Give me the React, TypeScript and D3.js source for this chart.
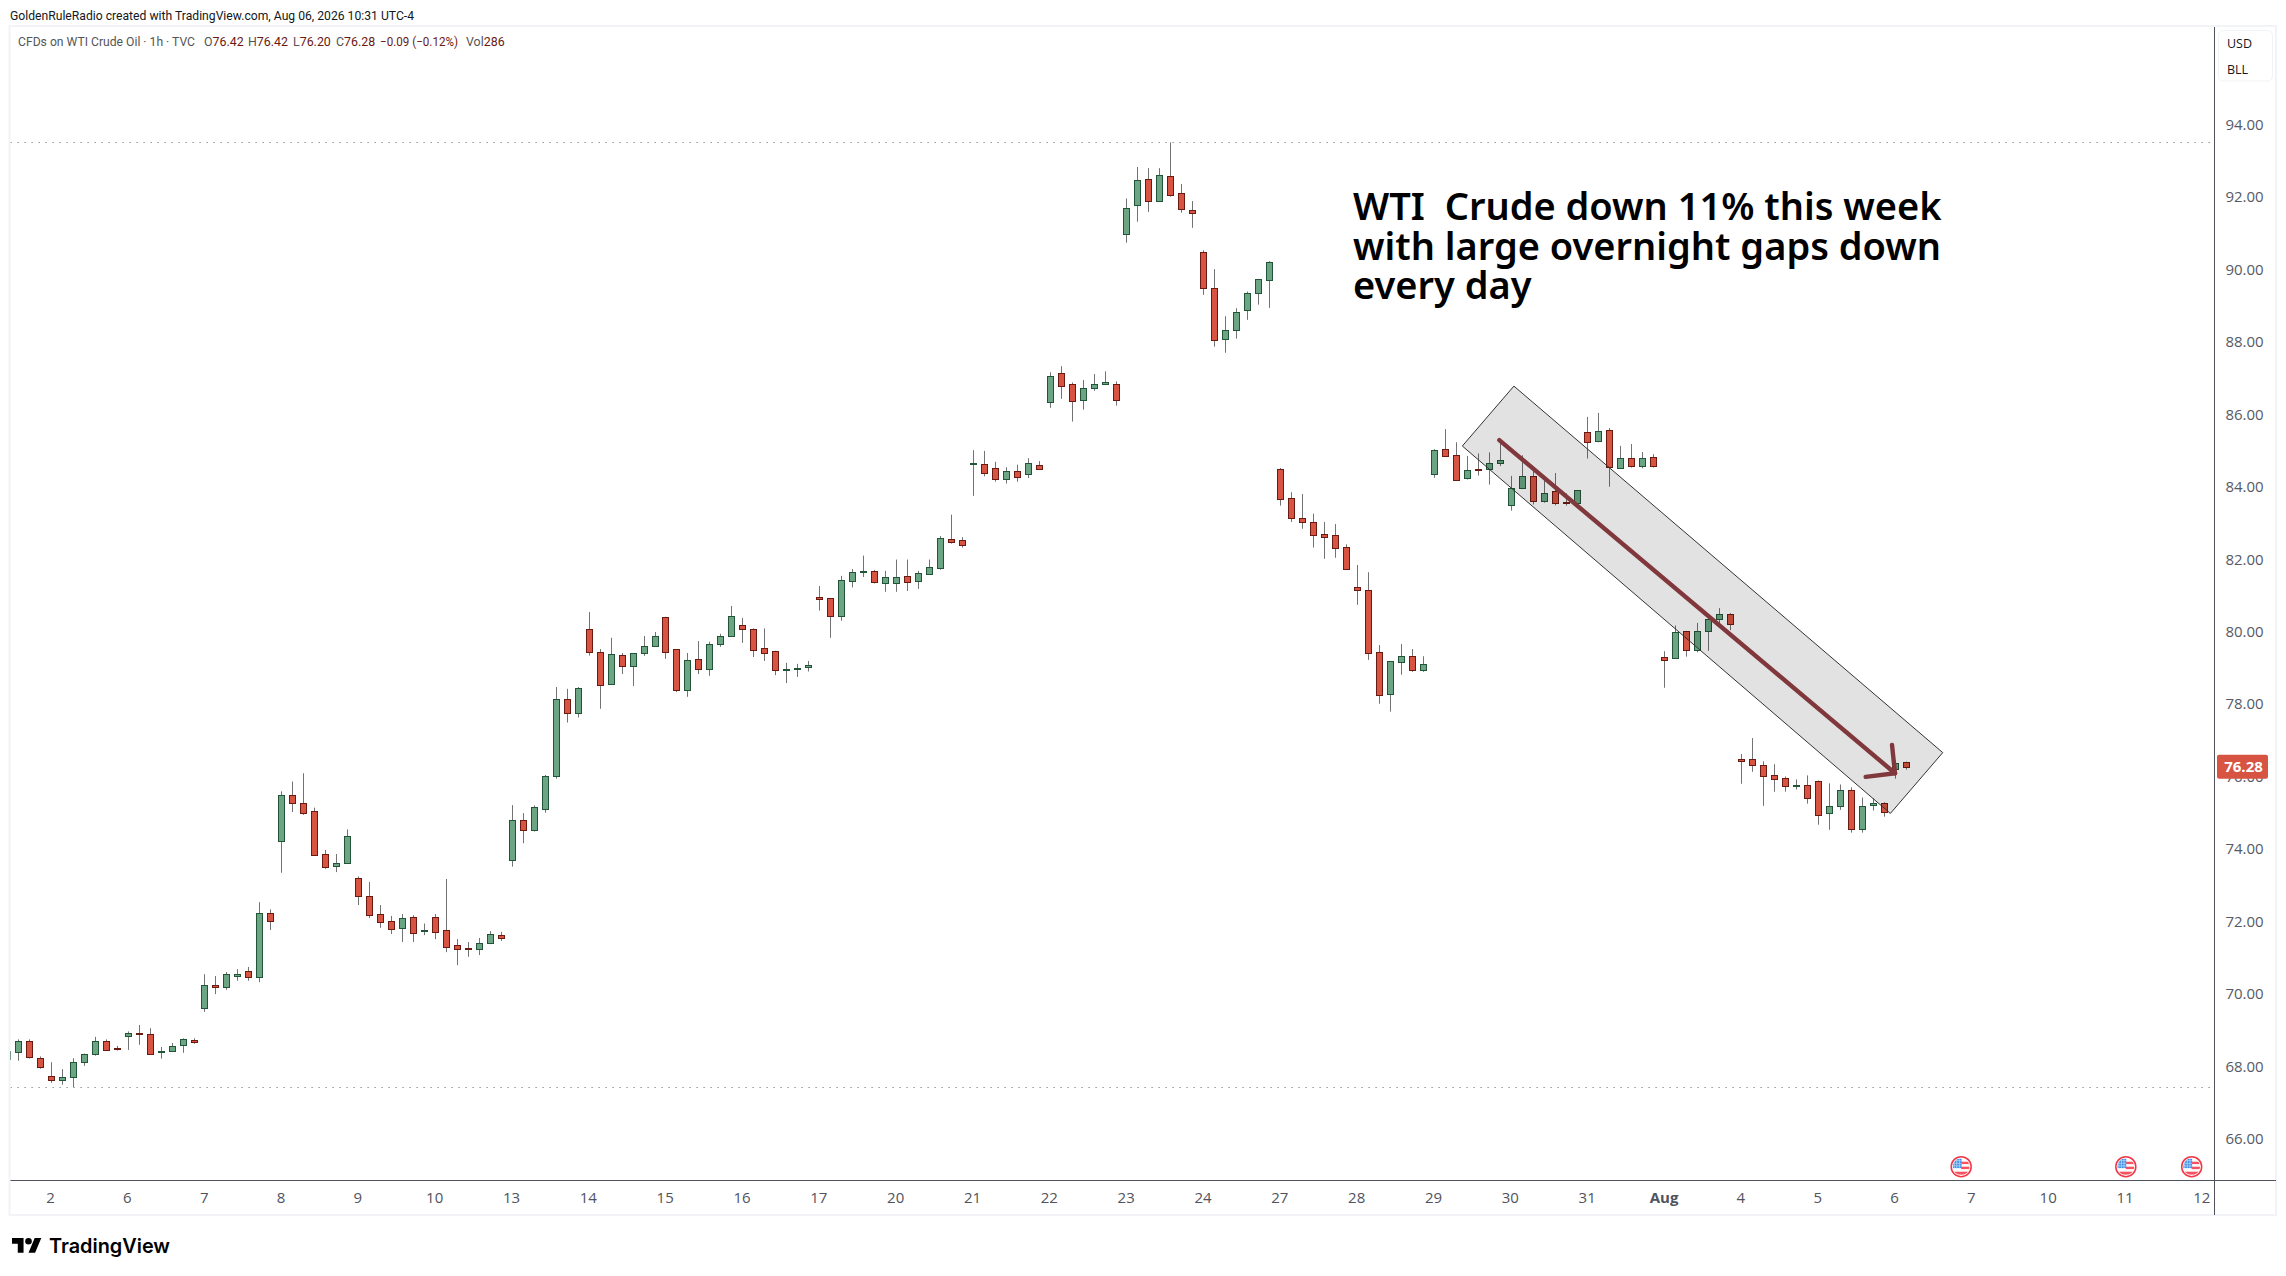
import React from "react";
import * as d3 from "d3";

// Hourly candles, one per slot, first slot is clipped by the left edge of the pane
const firstSlot = -1;
const opens = [
  68.22,68.39,68.70,68.25,67.73,67.64,67.72,68.14,68.36,68.70,68.50,68.85,68.94,68.89,68.39,68.42,68.59,68.72,
  69.63,70.24,70.21,70.51,70.63,70.48,72.23,74.22,75.51,75.27,75.07,73.86,73.55,73.63,73.20,72.70,72.20,72.01,
  71.83,72.12,71.75,72.12,71.76,71.35,71.27,71.26,71.42,71.62,73.70,74.80,74.54,75.12,76.03,78.14,77.75,80.07,
  79.44,78.57,79.36,79.07,79.43,79.62,80.41,79.52,78.41,79.25,78.99,79.68,79.90,80.19,80.07,79.55,79.47,78.96,
  78.99,79.02,80.96,80.93,80.43,81.42,81.67,81.68,81.36,81.34,81.54,81.42,81.61,81.78,82.58,82.55,84.63,84.65,
  84.52,84.22,84.45,84.35,84.62,86.36,87.14,86.84,86.42,86.75,86.86,86.86,90.98,91.78,92.50,91.89,92.58,92.11,
  91.64,90.48,89.49,88.08,88.33,88.88,89.35,89.71,84.49,83.69,83.16,83.05,82.70,82.67,82.34,81.23,81.15,79.44,
  78.28,79.16,79.35,78.94,84.35,85.04,84.88,84.24,84.50,84.49,84.68,83.50,83.99,84.32,83.63,83.88,83.58,83.55,
  85.51,85.27,85.57,84.52,84.80,84.58,84.82,79.30,79.27,80.02,79.49,80.04,80.37,80.49,76.48,76.48,76.34,76.04,
  75.96,75.76,75.77,75.88,74.99,75.19,75.65,74.55,75.21,75.27,76.23,76.42,
];
const highs = [
  68.50,68.75,68.75,68.28,68.12,67.93,68.23,68.36,68.82,68.75,68.57,68.97,69.15,69.06,68.54,68.65,68.78,68.78,
  70.55,70.50,70.61,70.69,70.75,72.54,72.34,75.60,75.87,76.10,75.15,73.98,73.87,74.55,73.25,73.10,72.46,72.16,
  72.21,72.18,71.95,72.21,73.18,71.52,71.44,71.55,71.74,71.72,75.22,75.00,75.21,76.05,78.48,78.43,78.48,80.55,
  79.53,79.84,79.42,79.42,79.89,80.00,80.42,79.53,79.42,79.75,79.73,79.95,80.72,80.39,80.10,80.10,79.48,79.15,
  79.12,79.20,81.27,80.94,81.55,81.74,82.11,81.71,81.69,82.00,82.00,81.69,82.00,82.65,83.24,82.62,85.02,85.00,
  84.70,84.55,84.62,84.80,84.72,87.17,87.34,86.89,86.96,87.12,87.20,86.92,91.97,92.84,92.81,92.81,93.52,92.37,
  91.90,90.54,90.02,88.72,88.94,89.40,89.75,90.24,84.53,83.86,83.81,83.27,83.04,82.98,82.42,81.85,81.65,79.64,
  79.20,79.67,79.53,79.33,85.05,85.60,85.24,84.86,84.93,84.96,85.30,84.31,84.88,84.55,84.21,84.39,83.83,83.92,
  85.94,86.05,85.63,85.14,85.19,84.97,84.91,79.47,80.18,80.03,80.25,80.42,80.66,80.52,76.63,77.07,76.43,76.35,
  76.01,75.93,76.04,75.90,75.82,75.79,75.71,75.43,75.41,75.30,76.45,76.42,
];
const lows = [
  68.15,68.16,68.22,67.94,67.55,67.50,67.43,68.02,68.30,68.43,68.44,68.46,68.60,68.35,68.22,68.41,68.38,68.63,
  69.51,70.00,70.12,70.37,70.37,70.33,71.77,73.35,75.03,74.95,73.82,73.46,73.37,73.60,72.46,72.10,71.83,71.66,
  71.44,71.44,71.63,71.52,71.16,70.80,71.03,71.08,71.38,71.47,73.52,74.17,74.49,75.01,75.95,77.50,77.64,79.35,
  77.88,78.57,78.84,78.51,79.34,79.59,79.26,78.34,78.21,78.84,78.79,79.59,79.87,79.70,79.31,79.20,78.81,78.59,
  78.76,78.91,80.59,79.84,80.31,81.23,81.52,81.34,81.11,81.11,81.13,81.19,81.58,81.72,82.44,82.33,83.76,84.30,
  84.15,84.10,84.15,84.25,84.48,86.19,86.44,85.81,86.14,86.66,86.84,86.25,90.75,91.33,91.60,91.88,92.02,91.58,
  91.16,89.31,87.88,87.71,88.10,88.62,89.04,88.95,83.49,83.04,82.85,82.33,82.02,82.05,81.72,80.75,79.23,78.02,
  77.80,78.82,78.90,78.90,84.26,84.84,84.18,84.21,84.32,84.07,84.58,83.35,83.98,83.52,83.57,83.50,83.49,83.43,
  84.79,85.24,84.01,84.51,84.54,84.52,84.54,78.46,79.26,79.32,79.44,79.48,80.20,80.05,75.81,76.14,75.20,75.59,
  75.59,75.65,75.26,74.68,74.54,75.09,74.46,74.46,75.07,74.90,75.95,76.20,
];
const closes = [
  68.42,68.70,68.27,68.00,67.62,67.70,68.14,68.34,68.70,68.47,68.49,68.92,68.89,68.36,68.42,68.56,68.75,68.69,
  70.24,70.21,70.55,70.57,70.48,72.23,72.01,75.51,75.27,74.99,73.85,73.52,73.61,74.38,72.70,72.18,71.98,71.81,
  72.09,71.70,71.77,71.72,71.31,71.26,71.25,71.40,71.65,71.56,74.80,74.52,75.16,76.02,78.14,77.77,78.45,79.44,
  78.55,79.38,79.07,79.41,79.61,79.88,79.46,78.41,79.22,78.99,79.66,79.88,80.43,80.07,79.51,79.43,78.96,78.97,
  79.00,79.08,80.92,80.43,81.43,81.65,81.68,81.39,81.51,81.51,81.39,81.62,81.79,82.60,82.48,82.40,84.66,84.40,
  84.22,84.45,84.28,84.66,84.50,87.06,86.78,86.39,86.73,86.86,86.89,86.42,91.72,92.47,91.89,92.61,92.08,91.67,
  91.56,89.49,88.05,88.33,88.85,89.35,89.74,90.21,83.66,83.16,83.03,82.67,82.63,82.31,81.73,81.15,79.41,78.25,
  79.19,79.33,78.94,79.13,85.02,84.85,84.19,84.46,84.48,84.68,84.74,83.99,84.32,83.63,83.85,83.55,83.57,83.91,
  85.24,85.54,84.55,84.80,84.58,84.80,84.58,79.23,79.99,79.49,80.02,80.35,80.49,80.21,76.45,76.32,76.01,75.93,
  75.74,75.77,75.41,74.96,75.19,75.65,74.55,75.19,75.27,75.02,76.37,76.28,
];

const priceTicks = [94, 92, 90, 88, 86, 84, 82, 80, 78, 76, 74, 72, 70, 68, 66];
const lastPrice = 76.28;

const dayLabels = ["2","6","7","8","9","10","13","14","15","16","17","20","21","22","23","24","27","28","29","30","31","Aug","4","5","6","7","10","11","12"];
const firstLabelSlot = 3;
const slotsPerDay = 7;

const eventSlots = [177, 192, 198];

// Drawings, as [slot, price]
const channel: [number, number][] = [[131.55, 85.135], [136.25, 86.79], [175.32, 76.67], [170.55, 74.99]];
const arrowStart: [number, number] = [134.92, 85.30];
const arrowTip: [number, number] = [170.97, 76.10];
const arrowWingA: [number, number] = [168.30, 76.00];
const arrowWingB: [number, number] = [170.70, 76.88];

const noteLines = ["WTI  Crude down 11% this week", "with large overnight gaps down", "every day"];
const titleText = "GoldenRuleRadio created with TradingView.com, Aug 06, 2026 10:31 UTC-4";

const UP_FILL = "#6ba583", UP_LINE = "#225437", DOWN_FILL = "#d75442", DOWN_LINE = "#6b1a12", WICK = "#737375";
const FONT = "'Open Sans', 'Noto Sans', sans-serif";
const SMALL = "Roboto, 'Open Sans', sans-serif";

const W = 2286, H = 1276;
const paneLeft = 10.5, axisX = 2214.5, axisY = 1180.5, frameTop = 27, frameBottom = 1215, frameRight = 2276;

const x = d3.scaleLinear().domain([0, 172]).range([18.4, 1906.3]);
const y = d3.scaleLinear().domain([66, 94]).range([1139, 125]);
const snap = (v: number) => Math.floor(v) + 0.5;
const pt = (p: [number, number]): [number, number] => [x(p[0]), y(p[1])];

function UsFlag({ cx, cy, id }: { cx: number; cy: number; id: string }) {
  return (
    <g transform={`translate(${cx},${cy})`}>
      <clipPath id={id}><circle r={8.4} /></clipPath>
      <circle r={10} fill="#fff" stroke="#f23645" strokeWidth={1.5} />
      <g clipPath={`url(#${id})`}>
        <rect x={0} y={-5} width={10} height={2.4} fill="#f7525f" />
        <rect x={0} y={0} width={10} height={2.4} fill="#f7525f" />
        <rect x={-10} y={5} width={20} height={3} fill="#f7525f" />
        <rect x={-9} y={-8} width={9.4} height={9.4} fill="#3d8fe8" />
        {d3.range(-7, 0, 2.6).map((gx) => (
          <line key={gx} x1={gx} x2={gx} y1={-8} y2={1.4} stroke="#d5e6fb" strokeWidth={0.6} />
        ))}
        {d3.range(-6, 1, 2.6).map((gy) => (
          <line key={gy} x1={-9} x2={0.4} y1={gy} y2={gy} stroke="#d5e6fb" strokeWidth={0.6} />
        ))}
      </g>
    </g>
  );
}

export default function App() {
  const candles = d3.range(opens.length).map((i) => ({
    slot: firstSlot + i, o: opens[i], h: highs[i], l: lows[i], c: closes[i],
  }));
  const maxHigh = d3.max(highs) as number;
  const minLow = d3.min(lows) as number;
  const line = d3.line();
  const legendGrey = "#555";
  const legendVal = "#6b1a12";
  const legendItems: [string, number][] = [["O", 204], ["H", 248], ["L", 293], ["C", 336]];
  const legendVals = ["76.42", "76.42", "76.20", "76.28"];

  return (
    <svg width={W} height={H} viewBox={`0 0 ${W} ${H}`} style={{ position: "absolute", left: 0, top: 0, display: "block", background: "#fff" }}>
      <defs>
        <clipPath id="pane"><rect x={paneLeft} y={frameTop} width={axisX - paneLeft} height={axisY - frameTop} /></clipPath>
      </defs>
      <rect width={W} height={H} fill="#fff" />

      <text x={10} y={20} fontFamily={SMALL} fontSize={12.6} fill="#131722" textLength={404} lengthAdjust="spacingAndGlyphs">{titleText}</text>

      {/* frame */}
      <rect x={9.5} y={frameTop - 1} width={frameRight - 9.5} height={frameBottom - frameTop + 1} fill="none" stroke="#f1f3f6" strokeWidth={2} />

      <g clipPath="url(#pane)">
        {/* high / low lines */}
        {[maxHigh, minLow].map((v) => (
          <line key={v} x1={paneLeft} x2={axisX} y1={snap(y(v))} y2={snap(y(v))} stroke="#787b86" strokeDasharray="1.2 5.8" />
        ))}
        {candles.map((d) => {
          const cx = snap(x(d.slot));
          const up = d.c >= d.o;
          const top = Math.round(y(Math.max(d.o, d.c)));
          const bot = Math.round(y(Math.min(d.o, d.c)));
          return (
            <g key={d.slot}>
              <line x1={cx} x2={cx} y1={y(d.h)} y2={y(d.l)} stroke={WICK} />
              <rect x={cx - 3} y={top + 0.5} width={6} height={Math.max(bot - top, 1)}
                fill={up ? UP_FILL : DOWN_FILL} stroke={up ? UP_LINE : DOWN_LINE} strokeWidth={1} />
            </g>
          );
        })}
        {/* drawings */}
        <path d={(line(channel.map(pt)) as string) + "Z"} fill="#000" fillOpacity={0.115} stroke="#333" strokeWidth={1} />
        <g fill="none" stroke="#80383d" strokeWidth={4.4} strokeLinecap="round" strokeLinejoin="round">
          <path d={line([arrowStart, arrowTip].map(pt)) as string} />
          <path d={line([arrowWingA, arrowTip, arrowWingB].map(pt)) as string} />
        </g>
        {eventSlots.map((s, i) => <UsFlag key={s} cx={x(s)} cy={1166.7} id={`flag${i}`} />)}
      </g>

      {/* legend */}
      <text x={18} y={45.5} fontFamily={SMALL} fontSize={12.4} fill={legendGrey} textLength={177} lengthAdjust="spacingAndGlyphs">CFDs on WTI Crude Oil · 1h · TVC</text>
      {legendItems.map(([k, lx], i) => (
        <text key={k} x={lx} y={45.5} fontFamily={SMALL} fontSize={12.4} fill={legendGrey}>{k}<tspan fill={legendVal}>{legendVals[i]}</tspan></text>
      ))}
      <text x={380} y={45.5} fontFamily={SMALL} fontSize={12.4} fill={legendVal} textLength={78} lengthAdjust="spacingAndGlyphs">−0.09 (−0.12%)</text>
      <text x={466} y={45.5} fontFamily={SMALL} fontSize={12.4} fill={legendGrey}>Vol<tspan fill={legendVal}>286</tspan></text>

      {/* note */}
      {noteLines.map((t, i) => (
        <text key={i} x={1353} y={220 + i * 39.7} fontFamily="'Noto Sans', sans-serif" fontWeight={600} fontSize={38} fill="#000" style={{ whiteSpace: "pre" }}>{t}</text>
      ))}

      {/* axes */}
      <line x1={axisX} x2={axisX} y1={frameTop} y2={frameBottom} stroke="#50535e" strokeWidth={1} />
      <line x1={paneLeft} x2={frameRight} y1={axisY} y2={axisY} stroke="#50535e" strokeWidth={1} />

      {priceTicks.map((t) => (
        <text key={t} x={2244.5} y={y(t) - 1} textAnchor="middle" dominantBaseline="central" fontFamily={FONT} fontSize={15} fill="#555a66">{t.toFixed(2)}</text>
      ))}
      {dayLabels.map((t, i) => (
        <text key={t + i} x={x(firstLabelSlot + i * slotsPerDay) - 0.8} y={1197} textAnchor="middle" dominantBaseline="central"
          fontFamily={FONT} fontSize={15} fontWeight={t === "Aug" ? 700 : 400} fill="#50535e">{t}</text>
      ))}

      {/* last price tag */}
      <rect x={2217} y={y(lastPrice) - 12} width={51} height={24} rx={2} fill="#d75442" />
      <text x={2243.5} y={y(lastPrice) - 1} textAnchor="middle" dominantBaseline="central" fontFamily={FONT} fontWeight={700} fontSize={15} fill="#fff">{lastPrice.toFixed(2)}</text>

      {/* currency box */}
      <rect x={2218.5} y={30.5} width={54} height={50.5} rx={5} fill="#fff" stroke="#f1f3f6" />
      <text x={2227} y={43.7} dominantBaseline="central" fontFamily={FONT} fontSize={12.5} fill="#131722">USD</text>
      <text x={2227} y={69.7} dominantBaseline="central" fontFamily={FONT} fontSize={12.5} fill="#131722">BLL</text>

      {/* logo */}
      <g transform="translate(12,1234.7) scale(0.825)" fill="#000">
        <path d="M14 22H7V11H0V4h14v18zM28 22h-8l7.5-18h8L28 22z" />
        <circle cx={20} cy={8} r={4} />
      </g>
      <text x={49} y={1252.5} fontFamily="Inter, sans-serif" fontWeight={600} fontSize={20} fill="#000" textLength={121} lengthAdjust="spacingAndGlyphs">TradingView</text>
    </svg>
  );
}
